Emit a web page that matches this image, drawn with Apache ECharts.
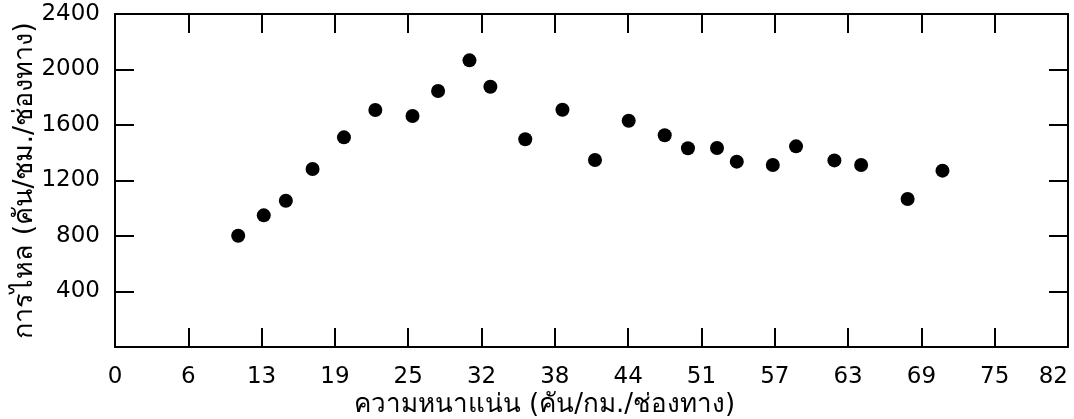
<!DOCTYPE html>
<html>
<head>
<meta charset="utf-8">
<script src="https://cdn.jsdelivr.net/npm/echarts@6/dist/echarts.min.js"></script>
<style>
  html, body { margin: 0; padding: 0; background: #fff; }
  #chart { width: 1074px; height: 419px; }
</style>
</head>
<body>
<div id="chart"></div>
<script>
// Density (veh/km/lane) of each observation
const density = [10.6, 12.8, 14.7, 17.0, 19.7, 22.4, 25.6, 27.8, 30.5, 32.3, 35.3, 38.5,
                 41.3, 44.2, 47.3, 49.3, 51.8, 53.5, 56.6, 58.6, 61.9, 64.2, 68.2, 71.2];
// Flow (veh/h/lane) of each observation
const flow = [802, 949, 1054, 1283, 1511, 1708, 1665, 1845, 2066, 1876, 1497, 1710,
              1348, 1631, 1526, 1432, 1434, 1336, 1312, 1446, 1345, 1312, 1067, 1271];

// Tick labels along the density axis (13 equal steps from 0 to 82)
const xTickLabels = ['0', '6', '13', '19', '25', '32', '38', '44', '51', '57', '63', '69', '75', '82'];
const xMax = 82;
const xStep = xMax / (xTickLabels.length - 1);

const xTitle = 'ความหนาแน่น (คัน/กม./ช่องทาง)';
const yTitle = 'การไหล (คัน/ชม./ช่องทาง)';

const FONT = '"DejaVu Sans", Tahoma, sans-serif';

const points = density.map((d, i) => [d, flow[i]]);

const tickStyle = { show: true, inside: true, length: 19, lineStyle: { color: '#000', width: 2 } };
const lineStyle = { show: true, onZero: false, lineStyle: { color: '#000', width: 2 } };

const chart = echarts.init(document.getElementById('chart'), null, { renderer: 'canvas' });
chart.setOption({
  backgroundColor: '#fff',
  animation: false,
  grid: { left: 115, right: 6, top: 14, bottom: 72, outerBoundsMode: 'none', containLabel: false },
  xAxis: [
    {
      type: 'value', position: 'bottom', min: 0, max: xMax, interval: xStep,
      axisLine: lineStyle, axisTick: tickStyle, splitLine: { show: false },
      axisLabel: {
        color: '#000', fontFamily: FONT, fontSize: 23, margin: 19,
        alignMaxLabel: 'right',
        formatter: v => xTickLabels[Math.round(v / xStep)] ?? ''
      },
      name: xTitle, nameLocation: 'middle', nameGap: 45, nameMoveOverlap: false,
      nameTextStyle: { color: '#000', fontFamily: FONT, fontSize: 26, padding: [0, 94, 0, 0] }
    },
    {
      type: 'value', position: 'top', min: 0, max: xMax, interval: xStep,
      axisLine: lineStyle, axisTick: tickStyle, splitLine: { show: false },
      axisLabel: { show: false }
    }
  ],
  yAxis: [
    {
      type: 'value', position: 'left', min: 0, max: 2400, interval: 400,
      axisLine: lineStyle, axisTick: tickStyle, splitLine: { show: false },
      axisLabel: {
        color: '#000', fontFamily: FONT, fontSize: 23, margin: 15,
        formatter: v => (v === 0 ? '' : String(v))
      },
      name: yTitle, nameLocation: 'middle', nameGap: 77, nameRotate: 90, nameMoveOverlap: false,
      nameTextStyle: { color: '#000', fontFamily: FONT, fontSize: 27 }
    },
    {
      type: 'value', position: 'right', min: 0, max: 2400, interval: 400,
      axisLine: lineStyle, axisTick: tickStyle, splitLine: { show: false },
      axisLabel: { show: false }
    }
  ],
  series: [{
    type: 'scatter',
    data: points,
    symbol: 'circle',
    symbolSize: 14,
    itemStyle: { color: '#000', opacity: 1 }
  }]
});
</script>
</body>
</html>
